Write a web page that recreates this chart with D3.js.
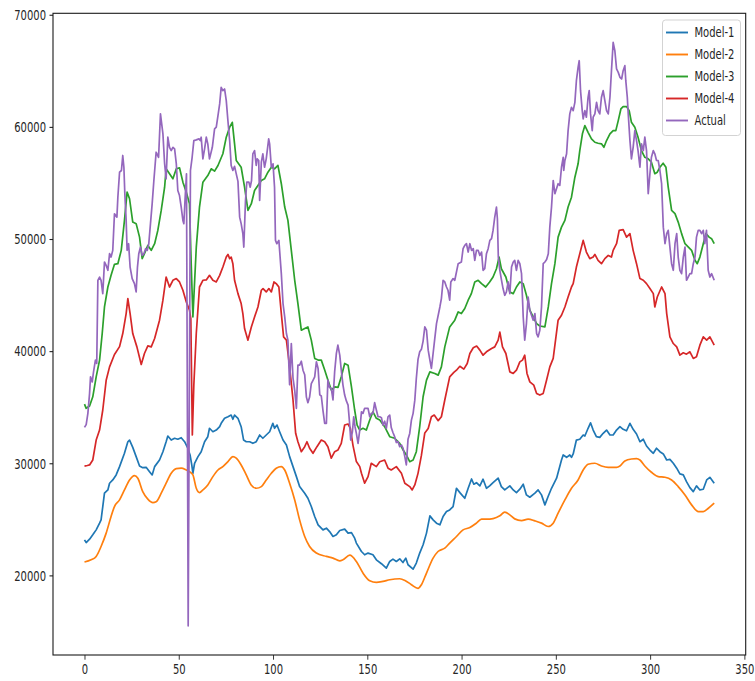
<!DOCTYPE html>
<html>
<head>
<meta charset="utf-8">
<script src="https://cdn.jsdelivr.net/npm/d3@7"></script>
<style>
  body { margin: 0; background: #fff; }
  svg { display: block; }
  text { font-family: "DejaVu Sans", sans-serif; font-size: 10px; fill: #262626; }
</style>
</head>
<body>
<svg id="chart" width="755" height="681"></svg>
<script>
// Series labels and colours
const seriesNames = ["Model-1", "Model-2", "Model-3", "Model-4", "Actual"];
const seriesColors = ["#1f77b4", "#ff7f0e", "#2ca02c", "#d62728", "#9467bd"];

// Axis ticks
const xTicks = [0, 50, 100, 150, 200, 250, 300, 350];
const yTicks = [20000, 30000, 40000, 50000, 60000, 70000];

// [day, value] readings per series
const model1 = [[0,23170],[0.9,22930],[2.7,23230],[4.4,23620],[6.2,24060],[8.0,24660],[8.8,24950],[9.7,26140],[10.6,27330],[12.4,27620],[13.3,28220],[15.0,28510],[16.8,28960],[18.6,29700],[21.2,30890],[23.0,31920],[23.9,32070],[25.6,31420],[27.4,30590],[29.2,29760],[30.9,29610],[32.7,29640],[34.5,29250],[35.9,28960],[37.2,29700],[39.8,30290],[41.6,31030],[43.3,31920],[44.2,32430],[46.0,32070],[47.8,32230],[49.5,32140],[51.3,32280],[53.1,31920],[54.8,31340],[56.0,30740],[56.9,29850],[57.5,29110],[58.4,30000],[60.2,30590],[61.9,31030],[63.7,31920],[65.4,32370],[66.3,33120],[68.1,32810],[69.9,32960],[71.7,33260],[72.5,33560],[74.3,34010],[76.1,34150],[77.8,34300],[78.7,33920],[79.6,34300],[81.4,34010],[83.1,33260],[84.4,32070],[85.8,31920],[87.6,31920],[89.3,31780],[91.1,31920],[92.9,32520],[94.6,32230],[96.4,32520],[98.2,32810],[99.9,33560],[100.8,33120],[102.1,33410],[103.5,32810],[105.3,32070],[107.1,31630],[108.8,30590],[110.6,29700],[112.4,28810],[114.1,27920],[116.8,27330],[118.5,26880],[120.3,26140],[122.1,25250],[123.9,24510],[126.5,24060],[128.3,24210],[130.0,23910],[131.8,23470],[133.6,23620],[135.4,24000],[138.0,24130],[139.8,23770],[141.6,23820],[143.3,23320],[144.2,22880],[146.9,22130],[148.6,21840],[150.4,21990],[153.0,21840],[154.8,21390],[157.5,21040],[160.1,20650],[161.9,21240],[163.6,21450],[165.4,21240],[167.2,21480],[168.9,21150],[170.4,21540],[171.6,20950],[174.3,20560],[176.0,21100],[177.8,21990],[179.6,22730],[181.4,23770],[183.2,25310],[184.9,24950],[186.7,24660],[188.5,24510],[190.2,25250],[192.0,25690],[193.7,25840],[195.5,26140],[197.3,27770],[199.1,27380],[201.7,26880],[203.5,27770],[205.3,28600],[206.5,28130],[207.9,28270],[209.7,27980],[211.4,28580],[213.2,27770],[214.9,27980],[216.7,28270],[219.4,28670],[221.1,27920],[222.9,27620],[225.6,27980],[227.4,27620],[229.1,27380],[230.9,27690],[232.7,28130],[234.4,27180],[236.2,26970],[238.9,27330],[240.6,27620],[242.4,27180],[244.2,26290],[245.9,27030],[247.7,27770],[250.4,28670],[253.0,30290],[253.9,30740],[255.7,30530],[257.4,30740],[258.3,30530],[259.2,30830],[260.9,32070],[262.7,32140],[264.5,32520],[265.4,32430],[267.1,33120],[268.4,33610],[269.8,32960],[271.5,32370],[273.3,32310],[275.1,32670],[276.9,32960],[278.7,32520],[280.4,32520],[282.2,32960],[284.0,33260],[285.7,33030],[287.5,32900],[289.3,33560],[291.0,33030],[292.8,32610],[294.6,31920],[296.4,32140],[298.1,31540],[299.9,31180],[301.7,30890],[303.4,31340],[305.2,31030],[307.0,30830],[308.8,30290],[310.5,30350],[312.3,30000],[314.1,29560],[315.8,29050],[317.6,28960],[319.3,28360],[321.1,27830],[322.9,27470],[324.6,27980],[326.4,27620],[328.2,27680],[330.0,28510],[331.7,28750],[334.0,28220]];

const model2 = [[0,21190],[3.5,21390],[6.2,21690],[8.8,22580],[11.5,23770],[14.1,25250],[15.9,26140],[18.6,26730],[21.2,27620],[23.9,28510],[26.5,28900],[28.3,28670],[30.9,27470],[33.6,26800],[36.3,26490],[38.0,26560],[40.7,27330],[43.3,28220],[46.0,29110],[48.7,29520],[51.3,29560],[54.0,29400],[55.7,29250],[57.5,28960],[59.3,27770],[61.0,27380],[62.8,27620],[65.4,28070],[68.1,28810],[70.8,29400],[73.4,29700],[76.1,30140],[78.7,30590],[80.5,30450],[83.1,29850],[85.8,28960],[88.4,28070],[91.1,27770],[93.8,27920],[96.4,28510],[99.1,29110],[101.7,29560],[104.4,29700],[106.2,29400],[108.8,28220],[111.5,26730],[114.1,24950],[116.8,23470],[119.4,22580],[123.0,21990],[128.3,21690],[131.8,21540],[135.4,21300],[137.1,21390],[140.7,21800],[144.2,21240],[147.7,20210],[151.3,19520],[154.8,19370],[158.3,19460],[161.9,19610],[167.2,19700],[170.0,19550],[173.4,19170],[176.9,18840],[178.7,19170],[181.4,20210],[184.9,21540],[187.5,22130],[191.1,22430],[193.7,22880],[197.3,23470],[200.8,24060],[204.4,24270],[207.9,24660],[210.6,25020],[213.2,25020],[216.7,25070],[220.3,25310],[222.9,25640],[225.6,25400],[228.2,25040],[231.8,24890],[235.3,25020],[238.9,24860],[242.4,24660],[245.9,24360],[248.6,24660],[251.2,25550],[254.8,26730],[258.3,27770],[261.8,28510],[264.5,29400],[267.1,29910],[270.7,30000],[274.2,29760],[277.8,29640],[282.2,29640],[284.0,29760],[286.6,30210],[290.1,30380],[292.8,30410],[294.6,30290],[297.2,29760],[300.7,29200],[304.3,28810],[307.9,28750],[311.4,28510],[314.9,27920],[318.5,27180],[322.0,26290],[325.6,25690],[328.2,25690],[330.9,25990],[334.0,26440]];

const model3 = [[0,35280],[0.9,34900],[2.7,35100],[4.4,35930],[6.2,37700],[8.0,39200],[9.4,41570],[10.6,43940],[12.4,45720],[14.1,46760],[15.9,47740],[17.7,47800],[19.5,48990],[21.2,51660],[22.6,54180],[23.9,53590],[25.6,51510],[27.4,51370],[29.2,50170],[30.6,48250],[31.8,48690],[33.6,49430],[35.4,48990],[37.2,49580],[38.9,50770],[40.7,52550],[42.5,54620],[43.3,56260],[45.1,55820],[46.9,55370],[48.7,56260],[50.4,56350],[52.2,55070],[54.0,54180],[55.7,53150],[56.6,47800],[57.5,43050],[59.3,49280],[61.0,52850],[62.8,55070],[65.4,55660],[67.2,56260],[69.0,56050],[70.8,56560],[73.4,57600],[75.2,59080],[77.0,59970],[78.4,60410],[79.6,58490],[80.5,57000],[83.1,56400],[84.9,54620],[86.7,52550],[88.5,53150],[90.2,54330],[92.0,54780],[93.8,55220],[95.5,55370],[97.3,55960],[99.1,56400],[100.8,56260],[102.6,56560],[104.4,54930],[106.2,52850],[107.9,51660],[109.7,48990],[111.5,46320],[113.2,44240],[115.0,41870],[116.8,42020],[118.5,42160],[120.3,40980],[122.1,39350],[123.9,39200],[125.6,39200],[127.4,38310],[129.1,37420],[130.9,36530],[132.7,36820],[134.5,36770],[136.2,37710],[138.0,38900],[139.8,38750],[141.6,36820],[143.3,34750],[144.6,33410],[146.0,32960],[147.7,33120],[149.5,32960],[151.3,33860],[153.0,34590],[154.8,34010],[156.6,33860],[159.2,33260],[161.9,32370],[164.5,32230],[167.2,31780],[169.0,31180],[170.7,30740],[172.5,30140],[174.3,30290],[176.0,31030],[177.8,33260],[179.6,35930],[181.4,37420],[183.2,38150],[185.8,38010],[187.6,37860],[189.3,38600],[191.1,40380],[193.7,42160],[196.4,42760],[198.2,43500],[199.9,43350],[201.7,43800],[203.5,44540],[205.2,45130],[207.0,46170],[208.8,46320],[210.6,46020],[212.8,45720],[214.9,46170],[216.7,46610],[218.5,47350],[219.9,48390],[221.1,47350],[223.5,46610],[225.6,45280],[227.4,45130],[229.1,45720],[230.9,46170],[232.7,46020],[234.4,44980],[236.2,43650],[238.0,43050],[239.8,42460],[241.5,42240],[244.2,42160],[246.0,43940],[247.7,46020],[249.5,47800],[251.2,50170],[253.0,51060],[254.8,51660],[256.5,52850],[258.3,53730],[260.1,55510],[261.8,56710],[262.7,57890],[264.1,59380],[265.4,60120],[267.1,59520],[268.9,58930],[270.7,58630],[272.4,58540],[274.2,58490],[275.5,58180],[276.9,58780],[278.7,59380],[280.4,59670],[281.8,59670],[283.1,60560],[284.5,61600],[285.7,61810],[287.5,61810],[288.9,61450],[290.1,60410],[291.9,59970],[293.6,59080],[295.4,57890],[297.2,57290],[299.0,57150],[300.7,56850],[302.5,55820],[303.8,55960],[305.2,56400],[306.9,56760],[308.4,56400],[309.6,54620],[311.4,52550],[313.2,52260],[314.9,51510],[316.7,50480],[318.5,49580],[320.3,49280],[322.0,48990],[323.8,48100],[325.0,47800],[326.4,48390],[328.2,49580],[329.6,50480],[331.3,50170],[332.6,50030],[334.0,49580]];

const model4 = [[0,29750],[1.5,29800],[2.7,29850],[4.4,30290],[6.2,32070],[8.0,32960],[9.7,34750],[11.5,37400],[13.3,38600],[15.9,39700],[18.6,40400],[20.3,41570],[22.1,43350],[23.0,44690],[24.2,43350],[25.6,41570],[27.8,40380],[30.1,38810],[31.8,39790],[33.6,40470],[35.4,40380],[37.2,41130],[39.8,42760],[41.6,44540],[43.3,46610],[45.1,45720],[46.9,46320],[48.7,46470],[50.4,46170],[52.2,45430],[54.0,44390],[55.7,43650],[56.4,42900],[57.2,32520],[58.0,37000],[59.3,41600],[61.0,45720],[62.8,46320],[64.6,46350],[66.3,46760],[68.1,46320],[69.9,46170],[71.7,46760],[73.4,47500],[75.2,48390],[76.1,48630],[77.0,48250],[77.8,48390],[78.7,47800],[79.6,46320],[81.4,45130],[83.1,44240],[84.0,43350],[84.9,42020],[86.7,40980],[88.5,42160],[90.2,43050],[92.0,43940],[93.8,45430],[94.7,45580],[96.4,45280],[97.8,45580],[99.1,45280],[100.5,46170],[101.7,46020],[103.1,45720],[104.4,43350],[105.6,41270],[107.1,40980],[108.8,38600],[110.6,35640],[112.0,32670],[113.2,31920],[115.0,31030],[116.8,31480],[118.0,31920],[119.4,31340],[121.2,30890],[123.3,31480],[125.6,32070],[127.4,31920],[129.1,31480],[130.9,30450],[132.7,31030],[134.4,31180],[136.2,31780],[138.0,33410],[139.8,33500],[141.0,33120],[142.4,31600],[144.2,30150],[146.0,29700],[146.9,29110],[148.6,28220],[150.4,28810],[152.1,30000],[154.8,29700],[156.6,30140],[159.2,30290],[161.0,29560],[162.7,29400],[165.4,29700],[168.1,29110],[169.9,28220],[172.5,27920],[173.8,27620],[175.2,28070],[176.9,29100],[178.7,30700],[180.5,32700],[182.3,33100],[184.0,34150],[185.5,34300],[187.6,33800],[189.3,34150],[191.1,35640],[193.7,37710],[195.9,38100],[197.3,38300],[199.1,38650],[201.2,38400],[203.0,38900],[204.4,39790],[206.2,40300],[208.0,40450],[209.7,40090],[211.4,39640],[213.2,39940],[215.9,40240],[217.6,40380],[219.4,40980],[220.3,41700],[221.7,40380],[223.5,39790],[225.6,38150],[227.4,38010],[229.1,38300],[230.9,39040],[232.3,39200],[233.5,39640],[234.7,38010],[236.2,37260],[238.3,36970],[239.8,36230],[241.5,36080],[243.3,36230],[245.1,37420],[246.8,38600],[248.6,39350],[251.2,42760],[253.0,43200],[254.8,43940],[256.5,44830],[258.3,45720],[259.2,46020],[260.9,47500],[262.7,48690],[264.5,49880],[266.2,48840],[268.0,48250],[269.8,48390],[270.7,48630],[272.4,48100],[274.2,47800],[276.0,48250],[277.8,48540],[279.5,48390],[280.4,48990],[282.2,49580],[283.6,50770],[285.7,50830],[287.5,50170],[289.3,50480],[291.0,48990],[292.8,47800],[294.6,46470],[296.4,46320],[298.1,46020],[299.9,45580],[301.7,45130],[302.5,43940],[303.8,44830],[306.1,45720],[307.9,45130],[308.8,43350],[310.5,41270],[312.3,40680],[314.1,40380],[315.8,39640],[317.6,39850],[319.3,39730],[321.1,39940],[322.9,39350],[324.6,39490],[326.4,40530],[328.2,41270],[330.0,40980],[331.7,41270],[334.0,40530]];

const actual = [[0,33200],[0.9,33450],[1.8,34450],[2.7,36230],[3.2,37710],[4.1,37260],[4.8,38150],[5.8,39200],[6.5,38900],[7.1,46320],[8.0,46610],[8.8,46320],[9.7,45130],[10.6,47950],[11.5,47650],[12.4,47210],[13.3,48690],[14.1,48390],[15.0,48990],[15.9,52250],[17.2,51950],[17.7,53730],[18.6,55960],[19.6,56110],[20.3,57450],[20.9,56400],[21.4,54040],[22.1,51660],[22.6,48990],[23.4,49580],[24.2,47500],[25.3,46470],[26.5,46020],[27.4,45280],[28.1,47500],[28.8,48690],[29.7,49280],[30.6,48540],[31.5,48690],[32.4,49140],[33.3,48990],[34.1,49580],[35.0,51370],[35.9,53150],[36.8,55220],[38.0,57740],[39.3,57290],[40.3,61160],[41.6,59380],[42.5,56710],[43.3,55370],[44.2,59080],[45.1,58180],[46.0,57890],[46.9,58180],[47.8,58040],[48.7,56710],[49.5,54330],[50.4,53880],[51.3,52850],[52.2,51660],[52.7,51370],[53.4,53730],[54.1,55820],[55.0,15500],[56.2,56110],[57.1,57290],[58.0,58780],[59.3,58840],[60.7,58930],[61.4,58780],[61.9,59080],[62.8,57150],[63.7,58040],[64.6,59080],[65.4,58490],[66.3,57150],[67.8,58180],[69.0,59820],[69.9,59970],[70.8,61010],[71.7,62050],[72.5,63530],[73.4,63230],[74.3,63380],[75.2,62340],[76.1,60500],[77.0,58780],[77.8,56560],[78.7,56110],[79.6,56480],[81.4,55140],[82.3,51950],[83.1,51370],[84.0,50480],[84.5,49280],[85.4,53440],[86.1,55070],[87.2,55070],[87.9,54620],[88.6,55220],[89.3,57600],[90.2,57890],[91.1,56560],[91.6,57150],[92.4,57000],[92.9,53440],[93.8,56850],[94.6,57600],[95.5,56400],[96.4,57150],[97.7,58930],[98.2,58490],[99.1,56400],[100.0,56710],[100.8,54620],[101.3,49880],[102.0,49580],[103.1,49880],[104.4,46910],[105.3,44240],[106.2,43050],[107.1,41570],[107.9,40980],[108.8,37000],[109.7,40680],[110.6,37600],[111.5,36500],[112.4,34900],[113.2,38750],[114.1,38750],[115.0,39100],[115.9,38300],[116.8,37900],[117.7,35900],[118.5,35400],[119.4,35900],[120.3,37100],[121.2,37400],[122.1,37700],[123.0,39050],[123.9,38450],[124.8,36100],[125.6,36000],[126.5,34700],[127.4,33560],[128.3,33560],[129.1,37420],[130.0,36750],[130.9,36670],[131.8,35650],[132.7,38200],[133.6,39800],[134.4,40530],[135.4,39650],[136.2,38300],[137.1,36970],[138.0,36080],[138.9,35560],[139.8,35190],[140.7,33400],[141.2,32070],[142.1,32810],[142.8,34150],[143.5,33260],[144.2,32670],[145.1,31780],[146.0,32960],[146.9,34590],[147.7,34450],[148.6,34900],[149.5,34900],[150.4,34900],[151.3,34150],[152.1,34450],[153.0,34450],[153.9,35410],[154.8,34750],[155.7,34150],[156.6,34150],[157.5,34070],[158.3,33400],[159.2,33750],[160.1,33120],[161.0,34150],[161.9,34300],[162.7,33190],[163.6,32740],[164.5,32370],[165.4,31850],[166.3,31930],[167.2,31480],[168.1,31630],[169.0,31330],[169.9,30590],[170.7,29850],[171.6,32150],[172.5,32660],[173.4,33850],[174.3,34450],[175.2,35630],[176.0,37560],[176.9,39270],[177.8,39940],[178.7,40160],[179.6,40900],[180.5,42160],[181.4,41870],[182.3,40090],[183.2,39200],[184.0,38460],[184.9,39790],[185.8,41130],[186.7,42460],[188.5,43940],[189.3,44690],[190.2,46320],[191.1,46170],[192.0,45720],[192.8,45430],[193.7,44540],[194.3,46170],[195.5,46470],[196.4,46320],[198.2,47800],[199.9,47950],[200.8,49140],[201.7,49430],[202.6,49580],[203.5,48840],[204.4,49580],[205.3,48990],[206.2,49140],[207.0,48100],[207.9,48990],[208.8,48990],[209.7,48540],[210.6,48840],[211.4,47210],[212.3,47350],[213.2,48690],[214.1,49140],[215.0,49880],[215.9,50030],[216.7,50770],[217.6,51950],[218.5,52850],[219.0,51810],[219.5,48390],[220.3,47210],[221.2,46320],[222.0,45580],[222.9,44980],[223.8,45280],[224.7,46170],[225.6,45130],[226.5,47500],[227.4,47950],[228.2,48100],[229.1,47210],[230.0,48100],[230.9,47800],[231.8,46910],[232.7,43050],[233.5,40980],[234.4,42460],[235.3,44830],[236.2,43650],[238.0,42760],[238.9,43350],[239.8,41570],[240.6,41270],[241.5,41870],[242.4,43940],[243.3,47800],[244.2,47950],[245.1,48170],[246.0,48690],[246.8,51060],[247.7,52850],[248.6,55220],[249.5,54040],[251.2,54930],[252.1,54780],[253.0,56400],[253.9,57290],[254.2,56110],[254.8,57000],[255.7,57600],[256.5,59670],[257.4,61160],[258.3,61750],[259.2,61450],[260.1,62190],[260.9,64120],[261.8,65310],[262.4,65900],[263.1,63230],[264.0,61450],[264.5,60710],[265.4,61450],[266.2,60860],[267.1,62640],[267.7,63230],[268.4,61160],[269.3,59670],[269.8,60860],[270.7,61160],[271.6,62190],[272.4,61450],[273.3,61160],[274.2,62640],[275.1,63230],[276.0,62340],[276.9,61450],[277.8,61160],[278.7,62640],[279.5,65010],[280.4,67530],[281.3,66790],[282.2,65170],[283.1,64860],[284.0,64420],[284.9,64270],[285.7,65010],[286.6,65460],[287.1,64120],[287.9,62640],[288.4,61160],[289.3,58780],[290.1,57150],[291.0,58180],[291.9,59670],[292.8,58780],[293.6,57890],[294.6,56400],[295.4,58490],[296.4,57890],[297.2,59080],[298.1,57890],[299.0,54040],[299.9,55820],[300.7,57290],[301.7,57890],[302.5,57600],[303.4,57000],[304.3,57000],[305.2,56110],[306.1,54930],[307.0,51060],[307.9,49580],[308.8,50480],[309.6,50770],[310.5,49280],[311.4,47800],[312.3,47210],[313.2,49580],[314.1,50480],[314.9,48390],[315.8,47210],[316.7,46910],[317.6,48390],[318.5,49280],[319.3,46320],[320.2,46610],[321.1,46910],[322.0,46910],[322.9,47800],[323.8,48390],[324.6,50170],[325.5,50770],[326.4,50770],[327.3,50480],[328.2,50770],[329.0,49580],[329.9,50770],[330.8,47210],[331.7,46610],[332.6,46910],[334.0,46320]];

const seriesData = [model1, model2, model3, model4, actual];

// Layout
const W = 755, H = 681;
const plot = { left: 53, right: 745.7, top: 13.3, bottom: 655 };
const textStretch = 1.33;   // glyphs are drawn taller than wide

const svg = d3.select("#chart");
svg.append("rect").attr("width", W).attr("height", H).attr("fill", "#fff");

const x = d3.scaleLinear().domain([-16.7, 350.7]).range([plot.left, plot.right]);
const y = d3.scaleLinear().domain([12900, 70130]).range([plot.bottom, plot.top]);

// Lines
const line = d3.line().x(d => x(d[0])).y(d => y(d[1]));
const smoothLine = d3.line().x(d => x(d[0])).y(d => y(d[1])).curve(d3.curveMonotoneX);

const lines = svg.append("g")
  .attr("fill", "none")
  .attr("stroke-width", 1.7)
  .attr("stroke-linejoin", "round")
  .attr("stroke-linecap", "butt");

seriesData.forEach((data, i) => {
  lines.append("path")
    .attr("d", (i === 1 ? smoothLine : line)(data))
    .attr("stroke", seriesColors[i]);
});

// Bottom axis
const xAxis = svg.append("g")
  .attr("transform", `translate(0,${plot.bottom})`)
  .call(d3.axisBottom(x).tickValues(xTicks).tickSize(4.7).tickFormat(d3.format("d")));
xAxis.select(".domain").remove();
xAxis.selectAll(".tick line").attr("stroke", "#222").attr("stroke-width", 0.9);
xAxis.selectAll(".tick text")
  .attr("y", null).attr("dy", null)
  .attr("fill", "#262626")
  .style("font-size", "10px")
  .style("font-family", "'DejaVu Sans', sans-serif")
  .attr("transform", `translate(0,19) scale(1,${textStretch})`);

// Left axis
const yAxis = svg.append("g")
  .attr("transform", `translate(${plot.left},0)`)
  .call(d3.axisLeft(y).tickValues(yTicks).tickSize(3.5).tickFormat(d3.format("d")));
yAxis.select(".domain").remove();
yAxis.selectAll(".tick line").attr("stroke", "#222").attr("stroke-width", 1.1);
yAxis.selectAll(".tick text")
  .attr("x", null).attr("dy", null)
  .attr("fill", "#262626")
  .style("font-size", "10px")
  .style("font-family", "'DejaVu Sans', sans-serif")
  .attr("transform", `translate(-7,0) scale(1,${textStretch}) translate(0,3.65)`);

// Frame
svg.append("rect")
  .attr("x", plot.left).attr("y", plot.top)
  .attr("width", plot.right - plot.left).attr("height", plot.bottom - plot.top)
  .attr("fill", "none").attr("stroke", "#1a1a1a").attr("stroke-width", 1.1);

// Legend
const legend = svg.append("g").attr("transform", "translate(662.5,20)");
legend.append("rect")
  .attr("width", 78).attr("height", 115.5)
  .attr("rx", 3).attr("ry", 3)
  .attr("fill", "#fff").attr("fill-opacity", 0.8)
  .attr("stroke", "#d3d3d3").attr("stroke-width", 1);

seriesNames.forEach((name, i) => {
  const cy = 12.5 + i * 22;
  legend.append("line")
    .attr("x1", 3.5).attr("x2", 25.5)
    .attr("y1", cy).attr("y2", cy)
    .attr("stroke", seriesColors[i]).attr("stroke-width", 1.9);
  legend.append("text")
    .attr("transform", `translate(32,${cy}) scale(1,${textStretch}) translate(0,3.65)`)
    .text(name);
});
</script>
</body>
</html>
